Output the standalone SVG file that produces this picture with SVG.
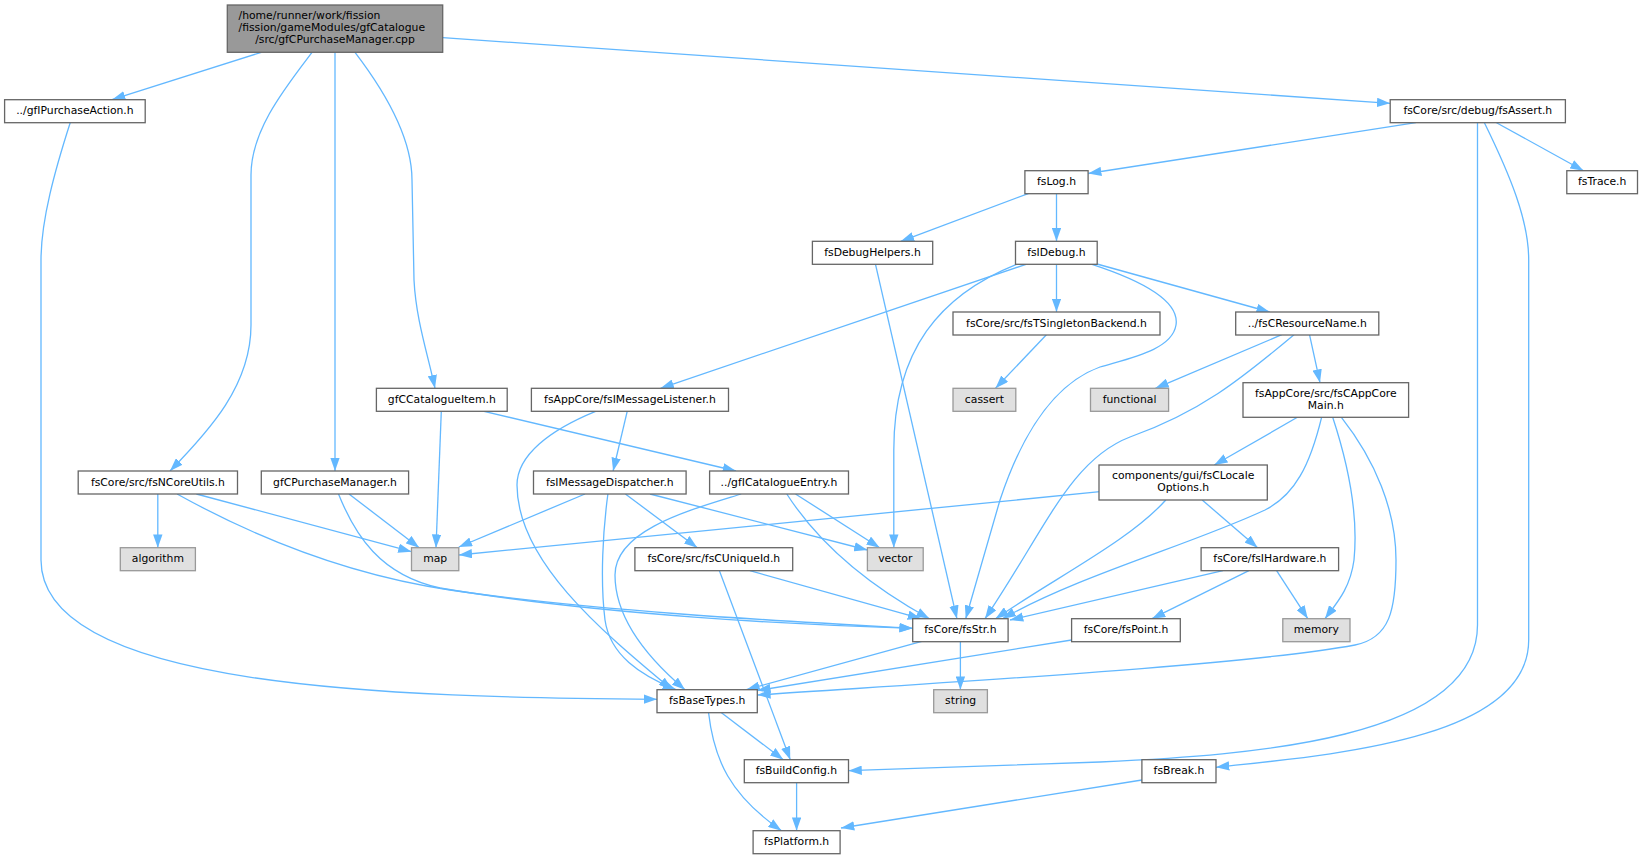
<svg xmlns="http://www.w3.org/2000/svg" width="1643" height="859" viewBox="0 0 1643 859">
<style>
.n rect{fill:#fff;stroke:#666;stroke-width:1.3}
.g rect{fill:#e0e0e0;stroke:#999;stroke-width:1.3}
.r rect{fill:#999;stroke:#666;stroke-width:1.3}
text{font-family:"DejaVu Sans",sans-serif;font-size:10.8px;fill:#000;text-anchor:middle}
text.l{text-anchor:start}
#edges path{fill:none;stroke:#63b8ff;stroke-width:1.3;marker-end:url(#a)}
</style>
<defs>
<marker id="a" markerUnits="userSpaceOnUse" markerWidth="13.3" markerHeight="9.4" viewBox="0 0 13.3 9.4" refX="13.3" refY="4.7" orient="auto"><path d="M0,0L13.3,4.7L0,9.4z" fill="#63b8ff"/></marker>
</defs>
<rect width="1643" height="859" fill="#fff"/>
<g id="edges">
<path d="M261.3,52.3 L112,99.7"/>
<path d="M312,52.3 C285,88 251,130 251,175 L251,325 C251,385 210,430 170,471"/>
<path d="M335,52.3 L335,471"/>
<path d="M355,52.3 C380,85 412,135 412,180 L414,280 C416,320 428,355 435,388.3"/>
<path d="M442.7,37.7 L1390.2,103.3"/>
<path d="M70.2,122.7 C55,170 41,220 41,260 L41,560 C41,690 400,697 657,699.3"/>
<path d="M1415.8,122.7 L1088.1,173.5"/>
<path d="M1496.5,122.7 L1583.5,170.7"/>
<path d="M1477.5,122.7 L1477.5,625 C1477.5,740 1250,755 1100,762 L848.5,770.7"/>
<path d="M1484.4,122.7 C1510,175 1528.7,220 1528.7,260 L1528.7,640 C1528.7,740 1330,755 1216,767.3"/>
<path d="M1028.8,193.3 L900.8,241.3"/>
<path d="M1056.5,193.3 L1056.5,241.3"/>
<path d="M875.5,264.3 L956.9,618.7"/>
<path d="M1026,264.3 L660.5,388.3"/>
<path d="M1016.5,264.3 C940,295 893.8,350 893.8,450 L893.8,547.7"/>
<path d="M1056.5,264.3 L1056.5,312"/>
<path d="M1097,264 L1269.7,312"/>
<path d="M1092,264.3 C1140,280 1180,300 1176,325 C1172,350 1130,358 1100,367 C1050,385 1020,440 1000,500 L965.7,618.7"/>
<path d="M1046.4,334.7 L995.5,388.3"/>
<path d="M1281.8,334.7 L1155.4,388.3"/>
<path d="M1294,334.7 C1240,380 1200,412 1130,437 C1070,460 1045,530 985,618.7"/>
<path d="M1309.5,334.7 L1320,382.7"/>
<path d="M1297.4,417.3 L1214.3,465"/>
<path d="M1321.6,417.3 C1310,465 1295,495 1265,510 C1190,545 1080,575 1002.5,618.7"/>
<path d="M1332.7,417.3 C1350,470 1358,520 1354,560 C1350,590 1335,605 1325,618.7"/>
<path d="M1341.4,417.3 C1375,460 1396,510 1396,560 C1396,610 1390,638 1355,645 C1250,665 950,682 757.3,695"/>
<path d="M1100,491.7 L458.8,555"/>
<path d="M1165.8,500 C1130,540 1060,575 995.5,618.7"/>
<path d="M1202.2,500 L1257.6,547.7"/>
<path d="M1222.9,570.7 L1010,620"/>
<path d="M1248.9,570.7 L1152,618.7"/>
<path d="M1276.6,570.7 L1307.8,618.7"/>
<path d="M1071.6,640 L757.3,690.5"/>
<path d="M921.8,641.3 L746.4,689.7"/>
<path d="M960.4,641.3 L960.4,689.7"/>
<path d="M720.8,712.3 L783.3,759.7"/>
<path d="M708.5,712.3 C714,760 730,795 781.5,830.7"/>
<path d="M796.6,782.7 L796.6,830.7"/>
<path d="M1141.9,780 L841,828"/>
<path d="M749.9,570.7 L921,618.7"/>
<path d="M719.4,570.7 L790.3,759.7"/>
<path d="M741.2,494 C690,510 615,530 615,575 C615,620 650,660 685,689.7"/>
<path d="M795.5,494 L879.7,547.7"/>
<path d="M786.8,494 C810,530 850,575 929.5,618.7"/>
<path d="M441.3,411.3 L436,547.7"/>
<path d="M484,411.3 L736,471"/>
<path d="M627.2,411.3 L613.1,471"/>
<path d="M595.6,411.3 C550,430 517,455 517,485 C517,560 600,630 672,689.7"/>
<path d="M585,494 L458.8,547"/>
<path d="M607.9,494 C603,530 600,580 605,620 C610,655 640,675 676,689.7"/>
<path d="M625.4,494 L697.3,547.7"/>
<path d="M650,494 L867.4,550"/>
<path d="M157.8,494 L157.8,547.7"/>
<path d="M196.4,494 L411.5,551.7"/>
<path d="M177.1,494 C260,540 350,575 450,590 C600,612 800,622 912.7,628.3"/>
<path d="M349,494 L419.2,547.7"/>
<path d="M338.5,494 C355,535 380,575 440,588 C600,615 800,625 912.7,628.3"/>
</g>
<g id="root" class="r"><rect x="227.3" y="5" width="215.4" height="47.3"/><text class="l" x="238.5" y="19.3">/home/runner/work/fission</text><text class="l" x="238.5" y="31.3">/fission/gameModules/gfCatalogue</text><text x="335" y="43.3">/src/gfCPurchaseManager.cpp</text></g>
<g id="gfIPurchaseAction" class="n"><rect x="4.6" y="99.7" width="140.6" height="23"/><text x="74.9" y="114.2">../gfIPurchaseAction.h</text></g>
<g id="fsAssert" class="n"><rect x="1390.2" y="99.7" width="175.2" height="23"/><text x="1477.8" y="114.2">fsCore/src/debug/fsAssert.h</text></g>
<g id="fsLog" class="n"><rect x="1024.9" y="170.7" width="63.2" height="23"/><text x="1056.5" y="185.2">fsLog.h</text></g>
<g id="fsTrace" class="n"><rect x="1566.8" y="170.7" width="70.7" height="23"/><text x="1602.2" y="185.2">fsTrace.h</text></g>
<g id="fsDebugHelpers" class="n"><rect x="812.4" y="241.3" width="120.3" height="23"/><text x="872.5" y="255.8">fsDebugHelpers.h</text></g>
<g id="fsIDebug" class="n"><rect x="1015.5" y="241.3" width="81.7" height="23"/><text x="1056.4" y="255.8">fsIDebug.h</text></g>
<g id="fsTSingletonBackend" class="n"><rect x="953" y="312" width="207" height="23"/><text x="1056.5" y="326.5">fsCore/src/fsTSingletonBackend.h</text></g>
<g id="fsCResourceName" class="n"><rect x="1235.7" y="312" width="143.1" height="23"/><text x="1307.3" y="326.5">../fsCResourceName.h</text></g>
<g id="gfCCatalogueItem" class="n"><rect x="376.4" y="388.3" width="130.8" height="23"/><text x="441.8" y="402.8">gfCCatalogueItem.h</text></g>
<g id="fsIMessageListener" class="n"><rect x="531.4" y="388.3" width="197.1" height="23"/><text x="630" y="402.8">fsAppCore/fsIMessageListener.h</text></g>
<g id="cassert" class="g"><rect x="953" y="388.3" width="62.8" height="23"/><text x="984.4" y="402.8">cassert</text></g>
<g id="functional" class="g"><rect x="1090.5" y="388.3" width="78.1" height="23"/><text x="1129.6" y="402.8">functional</text></g>
<g id="fsCAppCoreMain" class="n"><rect x="1243" y="382.7" width="165.6" height="34.6"/><text x="1325.8" y="397">fsAppCore/src/fsCAppCore</text><text x="1325.8" y="409">Main.h</text></g>
<g id="fsNCoreUtils" class="n"><rect x="78.2" y="471" width="159.3" height="23"/><text x="157.9" y="485.5">fsCore/src/fsNCoreUtils.h</text></g>
<g id="gfCPurchaseManager" class="n"><rect x="261.3" y="471" width="147.3" height="23"/><text x="335" y="485.5">gfCPurchaseManager.h</text></g>
<g id="fsIMessageDispatcher" class="n"><rect x="533.5" y="471" width="152.6" height="23"/><text x="609.8" y="485.5">fsIMessageDispatcher.h</text></g>
<g id="gfICatalogueEntry" class="n"><rect x="709.6" y="471" width="138.9" height="23"/><text x="779" y="485.5">../gfICatalogueEntry.h</text></g>
<g id="fsCLocaleOptions" class="n"><rect x="1099" y="465" width="168.3" height="35"/><text x="1183.2" y="479.3">components/gui/fsCLocale</text><text x="1183.2" y="491.3">Options.h</text></g>
<g id="algorithm" class="g"><rect x="120.3" y="547.7" width="75.1" height="23"/><text x="157.9" y="562.2">algorithm</text></g>
<g id="map" class="g"><rect x="411.5" y="547.7" width="47.3" height="23"/><text x="435.2" y="562.2">map</text></g>
<g id="fsCUniqueId" class="n"><rect x="634.9" y="547.7" width="157.8" height="23"/><text x="713.8" y="562.2">fsCore/src/fsCUniqueId.h</text></g>
<g id="vector" class="g"><rect x="867.4" y="547.7" width="55.8" height="23"/><text x="895.3" y="562.2">vector</text></g>
<g id="fsIHardware" class="n"><rect x="1201.1" y="547.7" width="137.5" height="23"/><text x="1269.9" y="562.2">fsCore/fsIHardware.h</text></g>
<g id="fsStr" class="n"><rect x="912.7" y="618.7" width="95.4" height="23"/><text x="960.4" y="633.2">fsCore/fsStr.h</text></g>
<g id="fsPoint" class="n"><rect x="1071.6" y="618.7" width="108.7" height="23"/><text x="1126" y="633.2">fsCore/fsPoint.h</text></g>
<g id="memory" class="g"><rect x="1282.8" y="618.7" width="67.2" height="23"/><text x="1316.4" y="633.2">memory</text></g>
<g id="fsBaseTypes" class="n"><rect x="657" y="689.7" width="100.3" height="23"/><text x="707.2" y="704.2">fsBaseTypes.h</text></g>
<g id="string" class="g"><rect x="933.7" y="689.7" width="53.7" height="23"/><text x="960.6" y="704.2">string</text></g>
<g id="fsBuildConfig" class="n"><rect x="744.3" y="759.7" width="104.2" height="23"/><text x="796.4" y="774.2">fsBuildConfig.h</text></g>
<g id="fsBreak" class="n"><rect x="1141.9" y="759.7" width="74.1" height="23"/><text x="1179" y="774.2">fsBreak.h</text></g>
<g id="fsPlatform" class="n"><rect x="753.1" y="830.7" width="87" height="23"/><text x="796.6" y="845.2">fsPlatform.h</text></g>
</svg>
